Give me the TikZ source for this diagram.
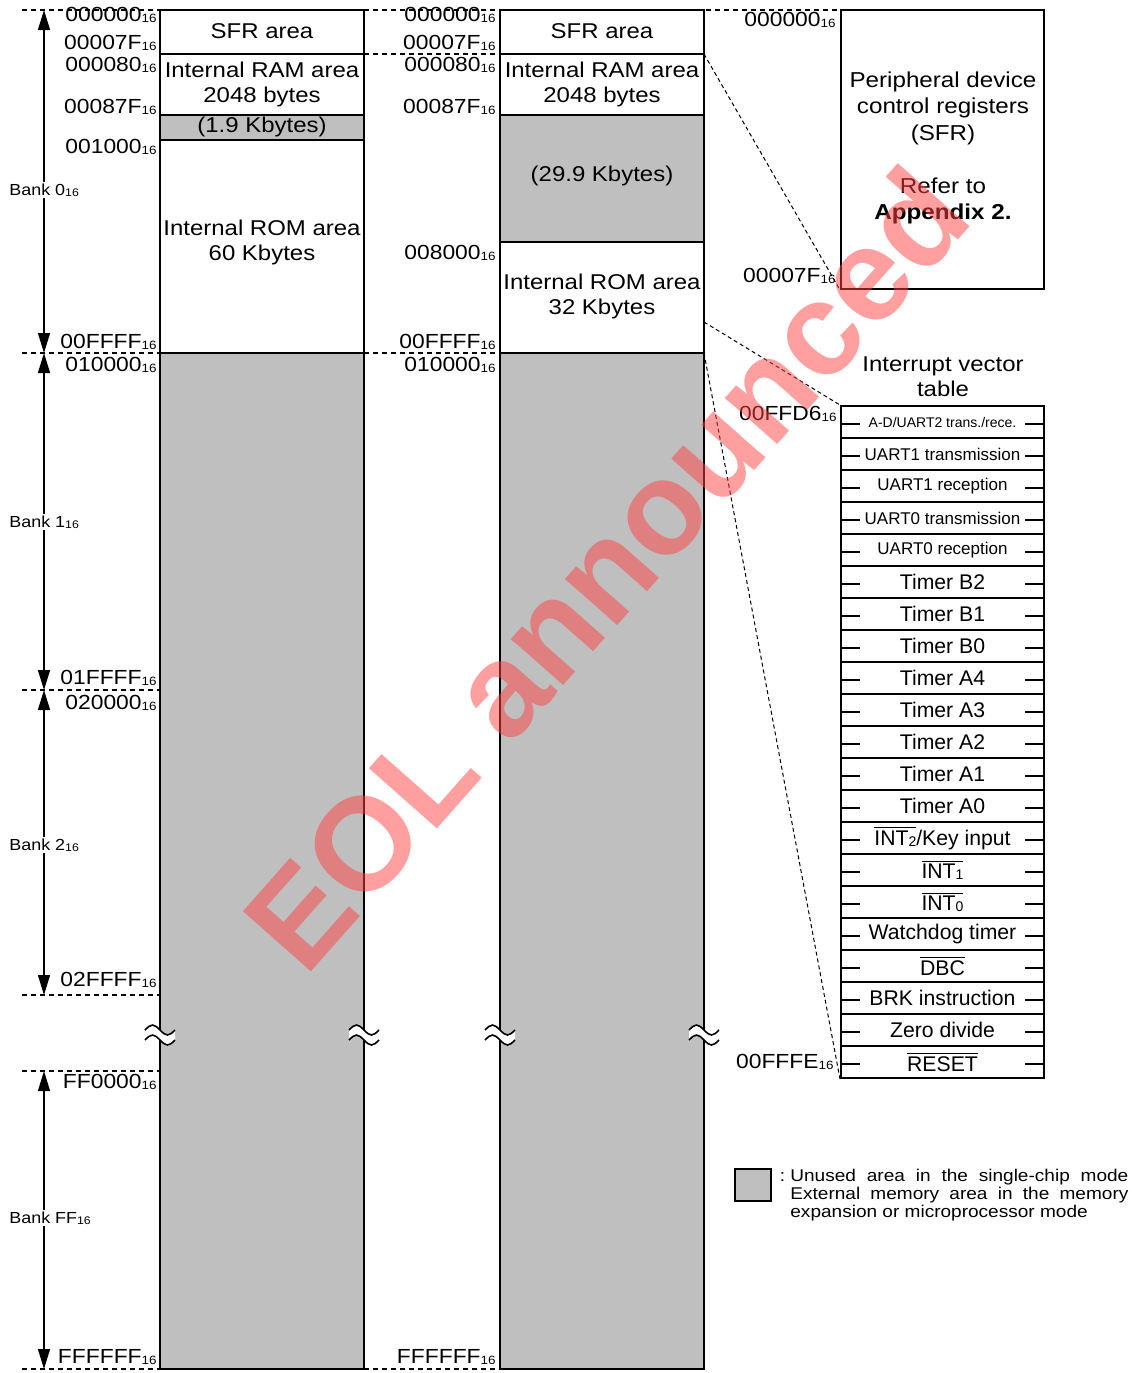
\documentclass[tikz,border=0pt]{standalone}
\usepackage{fontspec}
\setmainfont{Liberation Sans}
\newfontfamily\widesf{Liberation Sans}[FakeStretch=1.12]
\usetikzlibrary{arrows.meta}

\newcommand{\adr}[2][6]{#2\raisebox{-0.5pt}{\fontsize{#1}{#1}\selectfont 16}}
\newcommand{\ovl}[1]{$\overline{\hbox{#1}}$}
\newcommand{\lo}[1]{\raisebox{-0.5pt}{\fontsize{7}{7}\selectfont #1}}

\tikzset{
  area/.style={draw, line width=1pt, fill=white},
  unused/.style={fill=black!25},
  guide/.style={line width=0.8pt, dash pattern=on 2.5pt off 2pt},
  zoomline/.style={line width=0.5pt, dash pattern=on 2pt off 1.5pt},
  adrlabel/.style={anchor=east, inner sep=0pt, font=\widesf\fontsize{10.2}{12}\selectfont},
  areatext/.style={align=center, inner sep=0pt, font=\widesf\fontsize{10.7}{12.5}\selectfont},
  banklabel/.style={anchor=west, fill=white, inner sep=1pt, font=\widesf\fontsize{8}{9}\selectfont},
  bankarrow/.style={line width=0.7pt, arrows={Triangle[length=10pt,width=6pt]-Triangle[length=10pt,width=6pt]}},
  vecrow/.style={draw, line width=1pt, minimum width=101.5pt, minimum height=16pt, inner sep=0pt, font=\fontsize{10.6}{12}\selectfont},
  tick/.style={line width=1pt},
  brk/.style={line width=0.8pt}
}

\begin{document}
\begin{tikzpicture}[x=0.5pt, y=-0.5pt]
\useasboundingbox (0,0) rectangle (1134,1373);

% dashed guide lines
\draw[guide] (22,10) -- (841,10);
\draw[guide] (364,54) -- (500,54);
\draw[guide] (22,353) -- (500,353);
\draw[guide] (22,690) -- (160,690);
\draw[guide] (22,995) -- (160,995);
\draw[guide] (22,1071) -- (160,1071);
\draw[guide] (22,1369) -- (500,1369);

% banks
\foreach \ya/\yb/\bk/\yl in {10/353/0/190, 353/690/1/522, 690/995/2/845, 1071/1369/FF/1218} {
  \draw[bankarrow] (44,\ya) -- (44,\yb);
  \node[banklabel] (bank\bk) at (7,\yl) {\adr[5.5]{Bank \bk}};
}

% single-chip column (60K ROM)
\draw[area, unused] (160,353) rectangle (364,1369);
\draw[area] (160,10) rectangle (364,54);
\draw[area] (160,54) rectangle (364,115);
\draw[area, unused] (160,115) rectangle (364,140);
\draw[area] (160,140) rectangle (364,353);
\node[areatext] (sfrl) at (262,31) {SFR area};
\node[areatext] (raml) at (262,84) {Internal RAM area\\2048 bytes};
\node[areatext] (gapl) at (262,127) {(1.9 Kbytes)};
\node[areatext] (roml) at (262,242) {Internal ROM area\\60 Kbytes};

% 32K ROM column
\draw[area] (500,10) rectangle (704,54);
\draw[area] (500,54) rectangle (704,115);
\draw[area, unused] (500,115) rectangle (704,242);
\draw[area] (500,242) rectangle (704,353);
\draw[area, unused] (500,353) rectangle (704,1369);
\node[areatext] (sfrm) at (602,31) {SFR area};
\node[areatext] (ramm) at (602,84) {Internal RAM area\\2048 bytes};
\node[areatext] (gapm) at (602,176) {(29.9 Kbytes)};
\node[areatext] (romm) at (602,296) {Internal ROM area\\32 Kbytes};

% addresses
\foreach \ly/\adrs in {15/000000, 43/00007F, 65/000080, 107/00087F, 147/001000, 342/00FFFF,
    365/010000, 678/01FFFF, 703/020000, 980/02FFFF, 1082/FF0000, 1357/FFFFFF}
  \node[adrlabel] (l\adrs) at (157,\ly) {\adr{\adrs}};
\foreach \ly/\adrs in {15/000000, 43/00007F, 65/000080, 107/00087F, 253/008000, 342/00FFFF,
    365/010000, 1357/FFFFFF}
  \node[adrlabel] (m\adrs) at (496,\ly) {\adr{\adrs}};

% break marks
\foreach \bx in {160,364,500,704} {
  \fill[white] (\bx-15,1030) sin (\bx-7.5,1025) cos (\bx,1030) sin (\bx+7.5,1035) cos (\bx+15,1030)
    -- (\bx+15,1040) sin (\bx+7.5,1045) cos (\bx,1040) sin (\bx-7.5,1035) cos (\bx-15,1040) -- cycle;
  \draw[brk] (\bx-15,1030) sin (\bx-7.5,1025) cos (\bx,1030) sin (\bx+7.5,1035) cos (\bx+15,1030);
  \draw[brk] (\bx-15,1040) sin (\bx-7.5,1035) cos (\bx,1040) sin (\bx+7.5,1045) cos (\bx+15,1040);
}

% SFR detail
\node[area, minimum width=101.5pt, minimum height=139.5pt, inner sep=0pt] (sfrbox) at (942.5,149.5) {};
\node[areatext, font=\widesf\fontsize{10.8}{13.25}\selectfont] (sfrtext) at (943,148)
  {Peripheral device\\control registers\\(SFR)\\[13.25pt]Refer to\\\textbf{Appendix 2.}};
\node[adrlabel] (rsfrtop) at (836,20) {\adr{000000}};
\node[adrlabel] (rsfrbot) at (836,276) {\adr{00007F}};

% interrupt vector table
\node[areatext] (vectitle) at (943,377) {Interrupt vector\\table};
\foreach \txt [count=\i from 0] in {{\fontsize{7}{8}\selectfont A-D/UART2 trans./rece.},
    {\fontsize{8.5}{10}\selectfont UART1 transmission}, {\fontsize{8.5}{10}\selectfont UART1 reception},
    {\fontsize{8.5}{10}\selectfont UART0 transmission}, {\fontsize{8.5}{10}\selectfont UART0 reception},
    Timer B2, Timer B1, Timer B0, Timer A4, Timer A3, Timer A2, Timer A1, Timer A0,
    {\ovl{INT\lo{2}}/Key input}, {\ovl{INT\lo{1}}}, {\ovl{INT\lo{0}}}, Watchdog timer,
    {\ovl{DBC}}, BRK instruction, Zero divide, {\ovl{RESET}}} {
  \node[vecrow] (vec\i) at (942.5,422+32*\i) {\txt};
  \draw[tick] ([yshift=-1pt]vec\i.west) -- ++(20,0);
  \draw[tick] ([yshift=-1pt]vec\i.east) -- ++(-20,0);
}
\node[adrlabel] (rvectop) at (837,414) {\adr{00FFD6}};
\node[adrlabel] (rvecbot) at (834,1062) {\adr{00FFFE}};

% zoom lines
\coordinate (ramcorner) at (704,54);
\coordinate (veccorner) at (704,322);
\coordinate (romcorner) at (704,353);
\draw[zoomline] (ramcorner) -- (sfrbox.south west);
\draw[zoomline] (veccorner) -- (vec0.north west);
\draw[zoomline] (romcorner) -- (vec20.south west);

% legend
\draw[area, unused] (735,1169) rectangle (771,1201);
\node[anchor=north west, inner sep=0pt, align=left, font=\widesf\fontsize{8.5}{9}\selectfont] (legendtext) at (790,1169)
  {\llap{:\ }\makebox[169pt][s]{Unused area in the single-chip mode}\\
   \makebox[169pt][s]{External memory area in the memory}\\
   expansion or microprocessor mode};

% watermark
\node[rotate=48.5, text=red!75, opacity=0.5, font=\fontsize{66}{66}\selectfont\bfseries] (eol) at (605,568) {EOL announced};
\end{tikzpicture}
\end{document}
